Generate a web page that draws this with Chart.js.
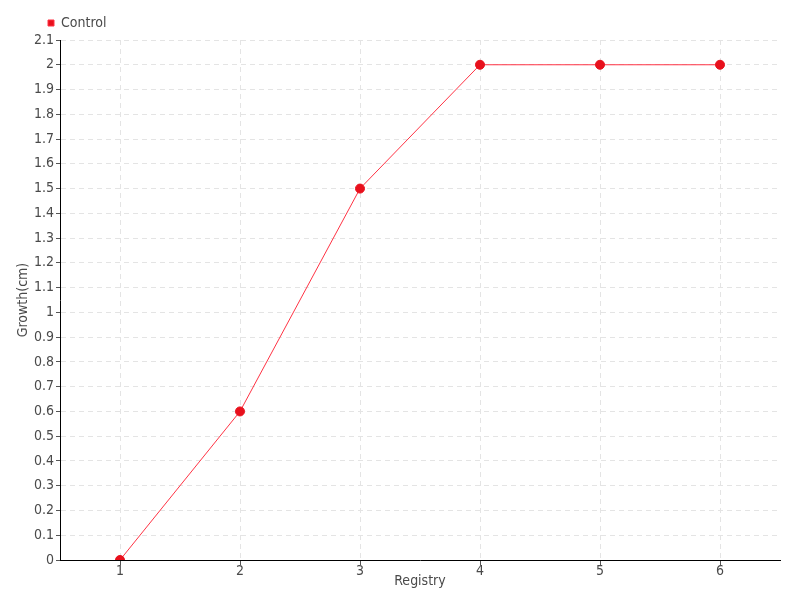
<!DOCTYPE html>
<html>
<head>
<meta charset="utf-8">
<script src="https://cdn.jsdelivr.net/npm/chart.js@4/dist/chart.umd.min.js"></script>
<style>
  html, body { margin: 0; padding: 0; background: #fff; }
  #wrap { width: 800px; height: 600px; }
</style>
</head>
<body>
<div id="wrap"><canvas id="chart"></canvas></div>
<script>
// Growth per registry
const registries = ['1', '2', '3', '4', '5', '6'];
const control = [0, 0.6, 1.5, 2, 2, 2];

Chart.defaults.font.family = "'Liberation Sans Narrow', 'DejaVu Sans Condensed', sans-serif";
Chart.defaults.font.size = 14;
Chart.defaults.color = '#4a4a4a';

// nudge the legend a bit left of the plot area
const legendShift = {
  id: 'legendShift',
  afterLayout(chart) {
    chart.legend.left = 38;
  },
};

new Chart(document.getElementById('chart'), {
  type: 'line',
  data: {
    labels: registries,
    datasets: [{
      label: 'Control',
      data: control,
      borderColor: '#ff3344',
      backgroundColor: '#e8101c',
      pointBackgroundColor: '#e8101c',
      pointBorderColor: '#e8101c',
      pointRadius: 4.5,
      borderWidth: 1,
      tension: 0,
    }],
  },
  options: {
    responsive: true, maintainAspectRatio: false,
    animation: false,
    layout: { padding: { top: 6, right: 20, bottom: 0, left: 0 } },
    plugins: {
      legend: {
        align: 'start',
        labels: { boxWidth: 6, boxHeight: 6, padding: 10, color: '#4a4a4a' },
      },
      tooltip: { enabled: false },
    },
    scales: {
      x: {
        offset: true,
        grid: { offset: false, color: '#e4e4e4', tickColor: '#555', tickLength: 5 },
        border: { color: '#000', dash: [5, 4] },
        ticks: { padding: -2 },
        title: { display: true, text: 'Registry', padding: { top: 0, bottom: 10 } },
        afterFit(s) { s.height = 40; },
      },
      y: {
        min: 0, max: 2.1,
        grid: { color: '#e4e4e4', tickColor: '#555', tickLength: 4 },
        border: { color: '#000', dash: [5, 4] },
        ticks: {
          stepSize: 0.1, padding: 2,
          callback: (v) => String(+v.toFixed(1)),
        },
        title: { display: true, text: 'Growth(cm)', padding: { top: 15, bottom: 0 } },
        afterFit(s) { s.width = 60; },
      },
    },
  },
  plugins: [legendShift],
});
</script>
</body>
</html>
